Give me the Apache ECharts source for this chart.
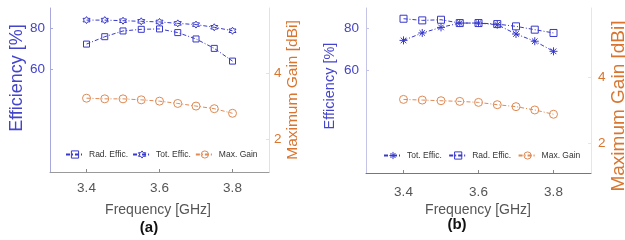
<!DOCTYPE html>
<html>
<head>
<meta charset="utf-8">
<script src="https://cdn.jsdelivr.net/npm/echarts@6/dist/echarts.min.js"></script>
<style>
  html, body { margin: 0; padding: 0; background: #fff; }
  #chart { width: 625px; height: 240px; }
</style>
</head>
<body>
<div id="chart"></div>
<script>
var freq = [3.4, 3.45, 3.5, 3.55, 3.6, 3.65, 3.7, 3.75, 3.8]
// panel (a)
var radEffA = [72.4, 76.0, 78.8, 79.6, 79.8, 78.0, 74.9, 70.3, 64.1]
var totEffA = [84.1, 84.1, 83.8, 83.5, 83.2, 82.5, 81.9, 80.6, 78.9]
var gainA = [3.25, 3.23, 3.23, 3.20, 3.16, 3.09, 3.01, 2.93, 2.79]
// panel (b)
var totEffB = [74.3, 77.9, 80.6, 82.7, 82.7, 81.9, 77.4, 73.9, 69.0]
var radEffB = [84.8, 84.0, 84.3, 82.7, 82.7, 82.2, 81.1, 79.5, 77.9]
var gainB = [3.33, 3.31, 3.29, 3.27, 3.24, 3.17, 3.11, 3.01, 2.88]
// tick labels
var freqTicks = [3.4, 3.6, 3.8]
var effTicks = [60, 80]
var gainTicks = [2, 4]

var blue = '#3838cc'
var orange = '#e08a55'
var blueText = '#4444cc'
var orangeText = '#d9752f'

function starPath (n, r1, r2) {
  var d = ''
  for (var i = 0; i < n * 2; i++) {
    var r = i % 2 === 0 ? r1 : r2
    var a = -Math.PI / 2 + i * Math.PI / n
    d += (i === 0 ? 'M' : 'L') + (r * Math.cos(a)).toFixed(2) + ',' + (r * Math.sin(a)).toFixed(2)
  }
  return 'path://' + d + 'Z'
}
var hexagram = starPath(6, 10, 5.8)
var asterisk = 'path://M0,-10L0,10M-10,0L10,0M-7,-7L7,7M-7,7L7,-7'
var square = 'path://M0,0L10,0L10,10L0,10Z'
var circle = 'path://M10,0A10,10,0,1,1,-10,0A10,10,0,1,1,10,0Z'

function pairs (ys) {
  return freq.map(function (f, i) { return [f, ys[i]] })
}

function line (name, ys, sym, size, color, xi, yi) {
  return {
    name: name,
    type: 'line',
    xAxisIndex: xi,
    yAxisIndex: yi,
    data: pairs(ys),
    symbol: sym,
    symbolSize: size,
    showAllSymbol: true,
    lineStyle: { color: color, width: 1, type: [4, 2, 1, 2] },
    itemStyle: { color: 'rgba(0,0,0,0)', borderColor: color, borderWidth: 1 },
    emphasis: { disabled: true },
    animation: false
  }
}

function xAxis (gi, margin, lineColor) {
  return {
    type: 'value', gridIndex: gi, min: 3.3, max: 3.9,
    axisLine: { show: true, onZero: false, lineStyle: { color: lineColor, width: 1 } },
    axisTick: { show: true, inside: true, length: 3, customValues: freqTicks, lineStyle: { color: '#888' } },
    axisLabel: { customValues: freqTicks, margin: margin, fontSize: 13.5, color: '#555', fontFamily: 'Liberation Sans',
      formatter: function (v) { return v.toFixed(1) } },
    splitLine: { show: false }
  }
}

function yAxis (gi, pos, min, max, ticks, color, lineColor, margin) {
  return {
    type: 'value', gridIndex: gi, position: pos, min: min, max: max,
    axisLine: { show: true, onZero: false, lineStyle: { color: lineColor, width: 1 } },
    axisTick: { show: true, inside: true, length: 3, customValues: ticks, lineStyle: { color: lineColor } },
    axisLabel: { customValues: ticks, margin: margin, fontSize: 13.5, color: color, fontFamily: 'Liberation Sans' },
    splitLine: { show: false }
  }
}

function title (text, x, y, size, color, rot, bold) {
  return {
    type: 'text', x: x, y: y, rotation: rot,
    style: { text: text, fontSize: size, fill: color, align: 'center', verticalAlign: 'middle',
      fontFamily: 'Liberation Sans', fontWeight: bold ? 'bold' : 'normal' }
  }
}

function legend (left, top, names) {
  return {
    left: left, top: top, itemWidth: 18, itemHeight: 9, itemGap: 4,
    itemStyle: { color: 'rgba(0,0,0,0)', borderWidth: 1 },
    textStyle: { fontSize: 8.5, color: '#333', fontFamily: 'Liberation Sans' },
    data: names
  }
}

var chart = echarts.init(document.getElementById('chart'))
chart.setOption({
  backgroundColor: '#fff',
  animation: false,
  grid: [
    { left: 50, top: 8, width: 219, height: 164 },
    { left: 366, top: 8, width: 225, height: 165 }
  ],
  xAxis: [xAxis(0, 9, '#9a9a9a'), xAxis(1, 12, '#777')],
  yAxis: [
    yAxis(0, 'left', 10, 90, effTicks, blueText, '#a8a8dc', 5),
    yAxis(0, 'right', 1, 6, gainTicks, orangeText, '#e2e2e2', 5),
    yAxis(1, 'left', 10, 90, effTicks, blueText, '#c4c4e6', 7),
    yAxis(1, 'right', 1.1, 6.1, gainTicks, orangeText, '#e6e6e6', 7)
  ],
  legend: [
    legend(60, 145, ['Rad. Effic.', 'Tot. Effic.', 'Max. Gain']),
    legend(378, 146, ['Tot. Effic. ', 'Rad. Effic. ', 'Max. Gain '])
  ],
  series: [
    line('Rad. Effic.', radEffA, square, 6, blue, 0, 0),
    line('Tot. Effic.', totEffA, hexagram, 7, blue, 0, 0),
    line('Max. Gain', gainA, circle, 8, orange, 0, 1),
    line('Tot. Effic. ', totEffB, asterisk, 8, blue, 1, 2),
    line('Rad. Effic. ', radEffB, square, 7, blue, 1, 2),
    line('Max. Gain ', gainB, circle, 8, orange, 1, 3)
  ],
  graphic: [
    title('Efficiency [%]', 17, 78, 18, blueText, Math.PI / 2),
    title('Maximum Gain [dBi]', 293, 90, 15.5, orangeText, Math.PI / 2),
    title('Frequency [GHz]', 158, 210, 14, '#555', 0),
    title('(a)', 149, 228, 15, '#111', 0, true),
    title('Efficiency [%]', 330, 86, 14.5, blueText, Math.PI / 2),
    title('Maximum Gain [dBi]', 619, 106, 19, orangeText, Math.PI / 2),
    title('Frequency [GHz]', 478, 210, 14, '#555', 0),
    title('(b)', 457, 225, 15, '#111', 0, true)
  ]
})
</script>
</body>
</html>
